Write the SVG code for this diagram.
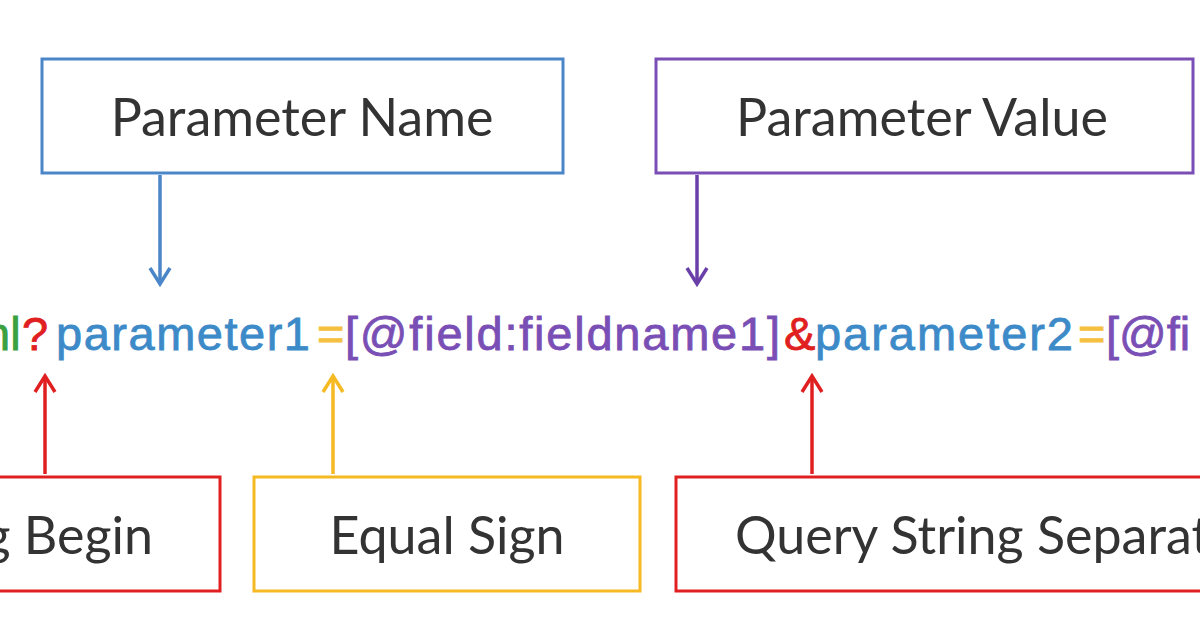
<svg xmlns="http://www.w3.org/2000/svg" width="1200" height="626" viewBox="0 0 1200 626">
<style>
.box{fill:#fff;stroke-width:3}
.lbl{font-family:Lato,"Open Sans",sans-serif;font-size:52px;fill:#333}
.url{font-family:"Liberation Sans",Arial,sans-serif;font-size:47px;stroke-width:0.8}
</style>
<defs>
<marker id="hb" markerWidth="24" markerHeight="24" refX="20" refY="12" orient="auto" markerUnits="userSpaceOnUse" viewBox="0 0 24 24"><path d="M4,2 L20,12 L4,22" fill="none" stroke="#4a86c8" stroke-width="3.5"/></marker>
<marker id="hp" markerWidth="24" markerHeight="24" refX="20" refY="12" orient="auto" markerUnits="userSpaceOnUse" viewBox="0 0 24 24"><path d="M4,2 L20,12 L4,22" fill="none" stroke="#6a3fa8" stroke-width="3.5"/></marker>
<marker id="hr" markerWidth="24" markerHeight="24" refX="20" refY="12" orient="auto" markerUnits="userSpaceOnUse" viewBox="0 0 24 24"><path d="M4,2 L20,12 L4,22" fill="none" stroke="#e02020" stroke-width="3.5"/></marker>
<marker id="hy" markerWidth="24" markerHeight="24" refX="20" refY="12" orient="auto" markerUnits="userSpaceOnUse" viewBox="0 0 24 24"><path d="M4,2 L20,12 L4,22" fill="none" stroke="#f5b922" stroke-width="3.5"/></marker>
</defs>
<rect width="1200" height="626" fill="#fff"/>
<g id="url">
<text class="url" y="350"><tspan x="-16" fill="#3aa040" stroke="#3aa040">nl</tspan><tspan x="22" fill="#e02020" stroke="#e02020">?</tspan><tspan x="56" fill="#3d8ac8" stroke="#3d8ac8" textLength="254">parameter1</tspan><tspan x="317" fill="#f5c040" stroke="#f5c040">=</tspan><tspan x="345" fill="#7a4fb5" stroke="#7a4fb5" textLength="435">[@field:fieldname1]</tspan><tspan x="784" fill="#e02020" stroke="#e02020">&amp;</tspan><tspan x="815" fill="#3d8ac8" stroke="#3d8ac8" textLength="258">parameter2</tspan><tspan x="1078" fill="#f5c040" stroke="#f5c040">=</tspan><tspan x="1106" fill="#7a4fb5" stroke="#7a4fb5">[@fi</tspan></text>
</g>
<g id="n-name"><rect class="box" x="42" y="59" width="521" height="114" stroke="#4a86c8"/><text class="lbl" x="302" y="136" text-anchor="middle">Parameter Name</text></g>
<g id="n-value"><rect class="box" x="656" y="59" width="537" height="114" stroke="#7a4fb5"/><text class="lbl" x="922" y="136" text-anchor="middle">Parameter Value</text></g>
<g id="n-begin"><rect class="box" x="-5" y="477" width="225" height="114" stroke="#e02020"/><text class="lbl" x="153" y="554" text-anchor="end">Query String Begin</text></g>
<g id="n-equal"><rect class="box" x="254" y="477" width="386" height="114" stroke="#f5b922"/><text class="lbl" x="447" y="554" text-anchor="middle">Equal Sign</text></g>
<g id="n-sep"><rect class="box" x="676" y="477" width="540" height="114" stroke="#e02020"/><text class="lbl" x="735" y="554">Query String Separator</text></g>
<g id="connectors" stroke-width="3.5" fill="none">
<line x1="160" y1="175" x2="160" y2="284" stroke="#4a86c8" marker-end="url(#hb)"/>
<line x1="697" y1="175" x2="697" y2="284" stroke="#6a3fa8" marker-end="url(#hp)"/>
<line x1="45" y1="474" x2="45" y2="376" stroke="#e02020" marker-end="url(#hr)"/>
<line x1="333" y1="474" x2="333" y2="376" stroke="#f5b922" marker-end="url(#hy)"/>
<line x1="812" y1="474" x2="812" y2="376" stroke="#e02020" marker-end="url(#hr)"/>
</g>
</svg>
